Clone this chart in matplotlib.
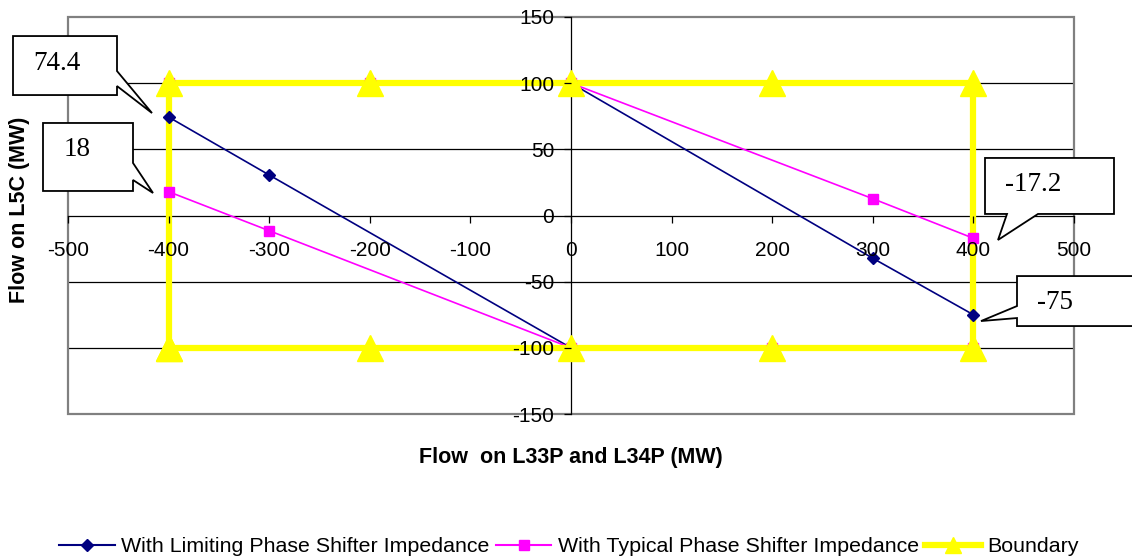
import numpy as np
import matplotlib
matplotlib.use("Agg")
import matplotlib.pyplot as plt
from matplotlib.patches import Polygon, Rectangle
from matplotlib.lines import Line2D
from matplotlib.transforms import IdentityTransform

# ---------------- data ----------------
x_limiting = [-400, -300, 0, np.nan, 0, 300, 400]
y_limiting = [74.4, 30.6, -100, np.nan, 100, -32.3, -75]

x_typical = [-400, -300, 0, np.nan, 0, 300, 400]
y_typical = [18, -11.5, -100, np.nan, 100, 12.7, -17.2]
x_typical_hidden = [-400, -200, 200, 400]
y_typical_hidden = [100, 100, -100, -100]

x_boundary = [-400, -400, -200, 0, 200, 400, 400, 200, 0, -200, -400]
y_boundary = [-100, 100, 100, 100, 100, 100, -100, -100, -100, -100, -100]

x_ticks = [-500, -400, -300, -200, -100, 0, 100, 200, 300, 400, 500]
y_ticks = [-150, -100, -50, 0, 50, 100, 150]

series_names = ["With Limiting Phase Shifter Impedance",
                "With Typical Phase Shifter Impedance",
                "Boundary"]

callout_points = [(-400, 74.4), (-400, 18), (400, -17.2), (400, -75)]
callout_texts = ["74.4", "18", "-17.2", "-75"]

NAVY = "#000080"
MAGENTA = "#FF00FF"
YELLOW = "#FFFF00"

plt.rcParams['font.family'] = ['Liberation Sans', 'DejaVu Sans']

W, H = 1132, 560
fig = plt.figure(figsize=(W / 100, H / 100), dpi=100)
ax = fig.add_axes([68 / W, 1 - 414 / H, (1074 - 68) / W, (414 - 17) / H])
ax.set_xlim(-500, 500)
ax.set_ylim(-150, 150)

# gridlines
for yv in y_ticks:
    if yv not in (-150, 0, 150):
        ax.axhline(yv, color="black", lw=0.9, zorder=0.5)

# outer frame
ax.add_patch(Rectangle((0, 0), 1, 1, transform=ax.transAxes, fill=False,
                       edgecolor="#808080", lw=1.6, zorder=0.6, clip_on=False))

for s in ["top", "right"]:
    ax.spines[s].set_visible(False)
ax.spines["left"].set_position(("data", 0))
ax.spines["bottom"].set_position(("data", 0))
ax.spines["left"].set_color("black")
ax.spines["bottom"].set_color("black")
ax.spines["left"].set_linewidth(0.9)
ax.spines["bottom"].set_linewidth(0.9)
ax.spines["left"].set_zorder(1)
ax.spines["bottom"].set_zorder(1)

ax.set_xticks(x_ticks)
ax.set_yticks(y_ticks)
ax.set_xticklabels([str(v) for v in x_ticks])
ax.set_yticklabels([str(v) for v in y_ticks])
ax.tick_params(axis="x", direction="out", length=5, width=0.9, pad=13, labelsize=15)
ax.tick_params(axis="y", direction="out", length=5, width=0.9, pad=7, labelsize=15)
ax.xaxis.set_zorder(6)
ax.yaxis.set_zorder(6)

# lines
ax.plot(x_limiting, y_limiting, color=NAVY, lw=1.2, zorder=2)
ax.plot(x_typical, y_typical, color=MAGENTA, lw=1.2, zorder=2)
ax.plot(x_boundary, y_boundary, color=YELLOW, lw=4.5, zorder=2.1, solid_joinstyle="miter")

# markers
ax.plot(x_limiting, y_limiting, ls="none", marker="D", ms=6.2, color=NAVY, zorder=3)
ax.plot(x_typical, y_typical, ls="none", marker="s", ms=7.5, color=MAGENTA, zorder=3.1)
ax.plot(x_typical_hidden, y_typical_hidden, ls="none", marker="s", ms=7.5,
        color=MAGENTA, zorder=3.1)
ax.plot(x_boundary, y_boundary, ls="none", marker="^", ms=19, color=YELLOW,
        zorder=3.2, clip_on=False)

# axis titles
fig.text(571 / W, 1 - 457 / H, "Flow  on L33P and L34P (MW)", ha="center", va="center",
         fontsize=15.5, fontweight="bold")
fig.text(20 / W, 1 - 210 / H, "Flow on L5C (MW)", ha="center", va="center",
         rotation=90, fontsize=15.5, fontweight="bold")

# legend
handles = [
    Line2D([], [], color=NAVY, lw=1.5, marker="D", ms=6),
    Line2D([], [], color=MAGENTA, lw=1.5, marker="s", ms=7),
    Line2D([], [], color=YELLOW, lw=4.5, marker="^", ms=11),
]
fig.legend(handles, series_names, loc="center", bbox_to_anchor=(569 / W, 1 - 547 / H),
           ncol=3, frameon=False, fontsize=15.4, handlelength=2.6, handletextpad=0.3,
           columnspacing=0.3, borderaxespad=0)

# callouts (offsets in image pixels relative to the data point, y downward)
callout_shapes = [
    [(-155.6, -81), (-51.6, -81), (-51.6, -46), (-16.6, -4), (-51.6, -31), (-51.6, -22), (-155.6, -22)],
    [(-125.6, -68.7), (-35.6, -68.7), (-35.6, -28.7), (-15.6, 1.3), (-35.6, -11.7), (-35.6, -0.7), (-125.6, -0.7)],
    [(11.6, -80.3), (140.6, -80.3), (140.6, -24.3), (64.6, -24.3), (24.6, 1.7), (33.6, -24.3), (11.6, -24.3)],
    [(43.6, -38.7), (171.6, -38.7), (171.6, 11.3), (43.6, 11.3), (43.6, 3.3), (7.6, 6.3), (43.6, -8.7)],
]
callout_text_off = [(-111.6, -54), (-91.6, -41.7), (59.6, -53.3), (81.6, -12.7)]

for (px, py), txt, shape, (tx, ty) in zip(callout_points, callout_texts,
                                          callout_shapes, callout_text_off):
    dx, dy = ax.transData.transform((px, py))
    verts = [(dx + ox, dy - oy) for ox, oy in shape]
    poly = Polygon(verts, closed=True, facecolor="white", edgecolor="black",
                   lw=1.3, transform=IdentityTransform(), zorder=10)
    fig.add_artist(poly)
    fig.text((dx + tx) / W, (dy - ty) / H, txt, ha="center", va="center",
             fontsize=19.5, family=["Liberation Serif", "DejaVu Serif"], zorder=11)

fig.savefig("out.png", dpi=100)
